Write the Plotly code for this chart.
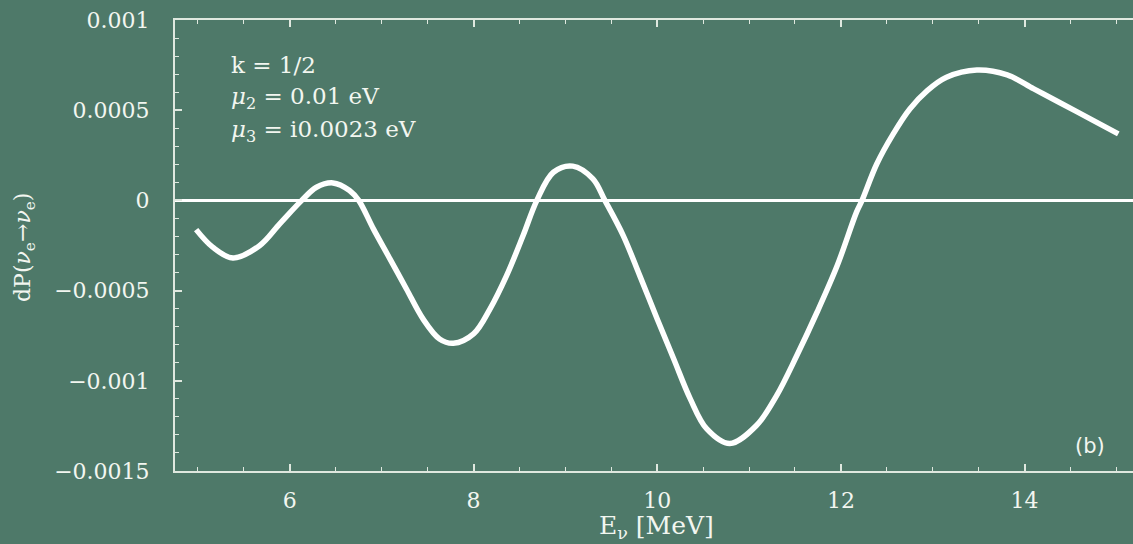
import plotly.graph_objects as go

# Data (E in MeV, dP in units of 1e-4)
energy = [4.98, 5.16, 5.38, 5.67, 5.89, 6.13, 6.29, 6.47, 6.65, 6.75, 6.91, 7.09, 7.27,
          7.45, 7.63, 7.78, 8.00, 8.18, 8.36, 8.54, 8.69, 8.87, 9.08, 9.30, 9.43, 9.63,
          9.81, 10.00, 10.18, 10.36, 10.54, 10.79, 11.08, 11.30, 11.52, 11.74, 11.96,
          12.17, 12.23, 12.39, 12.57, 12.75, 12.94, 13.15, 13.48, 13.81, 14.10, 14.39,
          14.75, 15.02]
dp_e4 = [-1.62, -2.59, -3.19, -2.51, -1.30, 0.0, 0.73, 0.97, 0.55, 0.0, -1.58, -3.24,
         -4.91, -6.57, -7.68, -7.92, -7.40, -6.01, -4.17, -1.95, 0.0, 1.56, 1.90, 1.19,
         0.0, -1.95, -4.17, -6.57, -8.79, -11.0, -12.67, -13.48, -12.48, -10.82, -8.60,
         -6.20, -3.61, -0.65, 0.0, 2.02, 3.69, 5.07, 6.09, 6.83, 7.23, 6.96, 6.18, 5.40,
         4.42, 3.69]
dp = [v * 1e-4 for v in dp_e4]

ytick_vals = [0.001, 0.0005, 0, -0.0005, -0.001, -0.0015]
ytick_text = ["0.001", "0.0005", "0", "\u22120.0005", "\u22120.001", "\u22120.0015"]
xtick_vals = [6, 8, 10, 12, 14]
xtick_text = ["6", "8", "10", "12", "14"]

BG = "#4e7969"
FG = "#f2f6f0"
AX = "#dfe8df"
SERIF = "DejaVu Serif, serif"

fig = go.Figure()
fig.add_trace(go.Scatter(x=energy, y=dp, mode="lines",
                         line=dict(color="white", width=5.5, shape="spline", smoothing=1.0),
                         hoverinfo="skip", showlegend=False))

fig.update_layout(
    width=1133, height=544,
    margin=dict(l=175, r=0, t=20, b=73),
    paper_bgcolor=BG, plot_bgcolor=BG,
    font=dict(family=SERIF, color=FG, size=20),
    showlegend=False,
)
fig.update_xaxes(range=[4.75, 15.18], showgrid=False, zeroline=False,
                 showline=True, linecolor=AX, linewidth=2, mirror="allticks",
                 ticks="inside", ticklen=7, tickwidth=1.5, tickcolor=AX,
                 tickvals=xtick_vals, ticktext=xtick_text, ticklabelstandoff=9,
                 tickfont=dict(family=SERIF, size=22, color=FG),
                 minor=dict(dtick=0.5, tick0=0, ticks="inside", ticklen=4, tickwidth=1.2,
                            tickcolor=AX, showgrid=False))
fig.update_yaxes(range=[-0.0015, 0.001], showgrid=False, zeroline=True,
                 zerolinecolor="white", zerolinewidth=2.5,
                 showline=True, linecolor=AX, linewidth=2,
                 ticks="inside", ticklen=7, tickwidth=1.5, tickcolor=AX,
                 tickvals=ytick_vals, ticktext=ytick_text, ticklabelstandoff=19,
                 tickfont=dict(family=SERIF, size=22, color=FG),
                 minor=dict(dtick=0.0001, tick0=0, ticks="inside", ticklen=4, tickwidth=1.2,
                            tickcolor=AX, showgrid=False))

PW = 958.0  # plot width in px
PH = 451.0  # plot height in px

notes = [("k = 1/2", 65),
         ("<i>\u03bc</i><sub>2</sub> = 0.01 eV", 98),
         ("<i>\u03bc</i><sub>3</sub> = i0.0023 eV", 131)]
for txt, ypx in notes:
    fig.add_annotation(x=(229 - 175) / PW, y=(471 - ypx) / PH, xref="paper", yref="paper",
                       text=txt, showarrow=False, xanchor="left", yanchor="middle",
                       font=dict(family=SERIF, size=23, color=FG))

fig.add_annotation(x=(1090 - 175) / PW, y=(471 - 446) / PH, xref="paper", yref="paper",
                   text="(b)", showarrow=False, xanchor="center", yanchor="middle",
                   font=dict(family="DejaVu Sans, sans-serif", size=21, color=FG))

fig.add_annotation(x=(656 - 175) / PW, y=(471 - 527) / PH, xref="paper", yref="paper",
                   text="E<sub>\u03bd</sub> [MeV]", showarrow=False,
                   xanchor="center", yanchor="middle",
                   font=dict(family=SERIF, size=25, color=FG))

fig.add_annotation(x=(24 - 175) / PW, y=(471 - 248) / PH, xref="paper", yref="paper",
                   text="dP(<i>\u03bd</i><sub>e</sub>\u2192<i>\u03bd</i><sub>e</sub>)",
                   showarrow=False, textangle=-90, xanchor="center", yanchor="middle",
                   font=dict(family=SERIF, size=22, color=FG))

fig.write_html("out.html")
